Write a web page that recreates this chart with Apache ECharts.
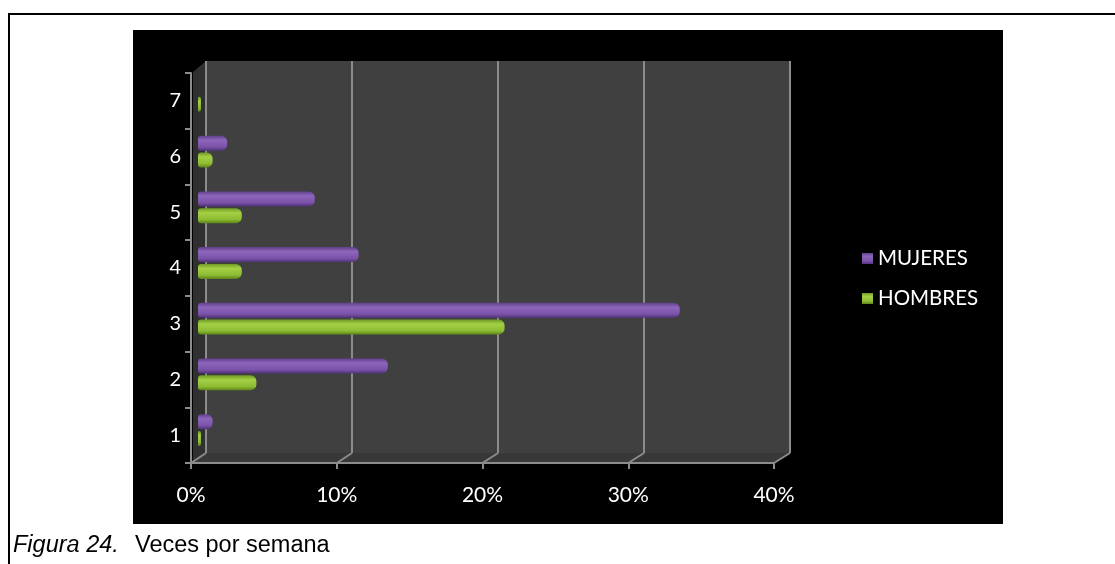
<!DOCTYPE html>
<html><head><meta charset="utf-8">
<script src="https://cdn.jsdelivr.net/npm/echarts@6/dist/echarts.min.js"></script>
<style>html,body{margin:0;padding:0;background:#fff}#c{width:1115px;height:564px}</style>
</head><body><div id="c"></div>
<script>
const categories = ['1','2','3','4','5','6','7'];
const mujeres = [1, 13, 33, 11, 8, 2, 0];
const hombres = [0.2, 4, 21, 3, 3, 1, 0.2];
const xTicks = [0, 10, 20, 30, 40];
const seriesNames = ['MUJERES', 'HOMBRES'];

const chart = echarts.init(document.getElementById('c'));
const W = 1115, H = 564;
const back = {l: 206, r: 790, t: 61, b: 453};
const front = {l: 191, r: 774, t: 73, b: 463};
const bars = {l: 198, r: 782, t: 68, b: 458};

function cyl(c0, c1, c2, c3) {
  return new echarts.graphic.LinearGradient(0, 0, 0, 1, [
    {offset: 0, color: c0}, {offset: 0.3, color: c1}, {offset: 0.75, color: c2}, {offset: 1, color: c3}
  ]);
}

const graphics = [
  {type: 'rect', shape: {x: 133, y: 30, width: 870, height: 494}, style: {fill: '#000'}, z: -10},
  {type: 'rect', shape: {x: 8, y: 13, width: W - 8, height: 2}, style: {fill: '#000'}, z: -10},
  {type: 'rect', shape: {x: 8, y: 13, width: 2, height: H - 13}, style: {fill: '#000'}, z: -10},
  {type: 'polygon', shape: {points: [[193, 72], [back.l, back.t], [back.l, back.b], [193, front.b]]}, style: {fill: '#303030'}, z: -5},
  {type: 'polygon', shape: {points: [[front.l, front.b], [back.l, back.b], [back.r, back.b], [front.r, front.b]]}, style: {fill: '#383838'}, z: -5},
  {type: 'text', left: 13, top: 534, style: {text: 'Figura 24.', font: 'italic 23.5px "Liberation Sans", Arial, sans-serif', fill: '#000'}},
  {type: 'text', left: 135, top: 534, style: {text: 'Veces por semana', font: '23.5px "Liberation Sans", Arial, sans-serif', fill: '#000'}}
];
xTicks.forEach((v, i) => {
  const xb = back.l + (back.r - back.l) * i / (xTicks.length - 1);
  const xf = front.l + (front.r - front.l) * i / (xTicks.length - 1);
  graphics.push({type: 'line', shape: {x1: xb, y1: back.b, x2: xf, y2: front.b}, style: {stroke: '#8c8c8c', lineWidth: 2}, z: -4});
});

chart.setOption({
  backgroundColor: 'transparent',
  animation: false,
  graphic: graphics,
  legend: {
    data: seriesNames, orient: 'vertical', left: 857, top: 243, itemGap: 19,
    icon: 'rect', itemWidth: 11, itemHeight: 11,
    textStyle: {color: '#fff', fontSize: 20.5, fontFamily: 'Lato'}
  },
  grid: [
    {left: back.l, right: W - back.r, top: back.t, bottom: H - back.b, show: true, backgroundColor: '#404040', borderWidth: 0},
    {left: bars.l, right: W - bars.r, top: bars.t, bottom: H - bars.b},
    {left: front.l, right: W - front.r, top: front.t, bottom: H - front.b}
  ],
  xAxis: [
    {gridIndex: 0, type: 'value', min: 0, max: 40, interval: 10, axisLine: {show: false}, axisTick: {show: false}, axisLabel: {show: false},
     splitLine: {show: true, lineStyle: {color: '#8c8c8c', width: 2}}},
    {gridIndex: 1, type: 'value', min: 0, max: 40, interval: 10, show: false},
    {gridIndex: 2, type: 'value', min: 0, max: 40, interval: 10, splitLine: {show: false},
     axisLine: {show: true, lineStyle: {color: '#8c8c8c', width: 2}},
     axisTick: {show: true, length: 6, lineStyle: {color: '#8c8c8c', width: 2}},
     axisLabel: {color: '#fff', fontSize: 21, fontFamily: 'Lato', margin: 22, formatter: v => v + '%'}}
  ],
  yAxis: [
    {gridIndex: 0, type: 'category', data: categories, show: false},
    {gridIndex: 1, type: 'category', data: categories, show: false},
    {gridIndex: 2, type: 'category', data: categories,
     axisLine: {show: true, lineStyle: {color: '#8c8c8c', width: 2}},
     axisTick: {show: true, length: 6, lineStyle: {color: '#8c8c8c', width: 2}},
     axisLabel: {color: '#fff', fontSize: 20, fontFamily: 'Lato', margin: 10}}
  ],
  series: [
    {name: 'MUJERES', type: 'bar', xAxisIndex: 1, yAxisIndex: 1, data: mujeres, barWidth: 15, barGap: '12%',
     itemStyle: {color: cyl('#61408c', '#8d66bb', '#7a52a8', '#51337a'), borderRadius: [3, 6, 6, 3]}},
    {name: 'HOMBRES', type: 'bar', xAxisIndex: 1, yAxisIndex: 1, data: hombres, barWidth: 15, barGap: '12%',
     itemStyle: {color: cyl('#6f9a24', '#a3d045', '#8dbb32', '#5c8419'), borderRadius: [3, 6, 6, 3]}}
  ],
  color: ['#7a52a8', '#8dbb32']
});
</script></body></html>
